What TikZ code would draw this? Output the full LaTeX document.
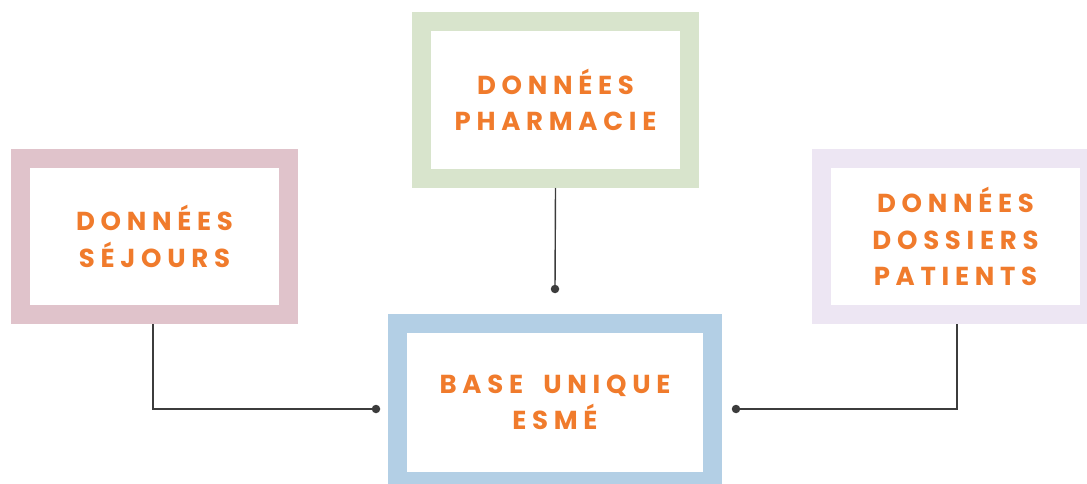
\documentclass[tikz,border=0pt]{standalone}
\usepackage{fontspec}
\setmainfont{Poppins}
\newfontfamily\cadrefont[LetterSpace=22, WordSpace=1.8]{Poppins}
\usetikzlibrary{positioning}

\definecolor{orangetxt}{HTML}{F07B2C}
\definecolor{gristrait}{HTML}{3C3C3C}
\definecolor{roseS}{HTML}{E0C3CB}
\definecolor{vertP}{HTML}{D8E4CC}
\definecolor{mauveD}{HTML}{EDE6F3}
\definecolor{bleuB}{HTML}{B3CFE5}

\begin{document}
\begin{tikzpicture}[x=1pt, y=-1pt,
 cadre/.style={draw=#1, line width=19pt, minimum width=268pt, minimum height=156pt,
   inner sep=0pt, align=center, text=orangetxt,
   font=\cadrefont\bfseries\fontsize{26}{36.5}\selectfont},
 lien/.style={draw=gristrait, line width=1.4pt},
 point/.style={circle, fill=gristrait, inner sep=0pt, minimum size=8.5pt}]
 \useasboundingbox (0,0) rectangle (1087,484);
 \clip (0,0) rectangle (1087,484);

 % les trois sources et la base
 \node[cadre=roseS] (sejours) at (154.5,236.5) {DONNÉES\\SÉJOURS};
 \node[cadre=vertP, minimum height=157pt] (pharma) at (555.5,100) {DONNÉES\\PHARMACIE};
 \node[cadre=mauveD] (dossiers) at (955.5,236.5) {DONNÉES\\DOSSIERS\\PATIENTS};
 \node[cadre=bleuB, minimum width=315pt, minimum height=158pt] (base) at (555,402.5) {BASE UNIQUE\\ESMÉ};

 % points d'arrivée
 \node[point] (dotP) at (555,289) {};
 \node[point] (dotS) at (376,409) {};
 \node[point] (dotD) at (736,409) {};

 % liaisons
 \draw[lien] ([xshift=-1.5pt]sejours.south) |- (dotS.center);
 \draw[lien] (pharma.south) -- (dotP.center);
 \draw[lien] ([xshift=1.5pt]dossiers.south) |- (dotD.center);
\end{tikzpicture}
\end{document}
